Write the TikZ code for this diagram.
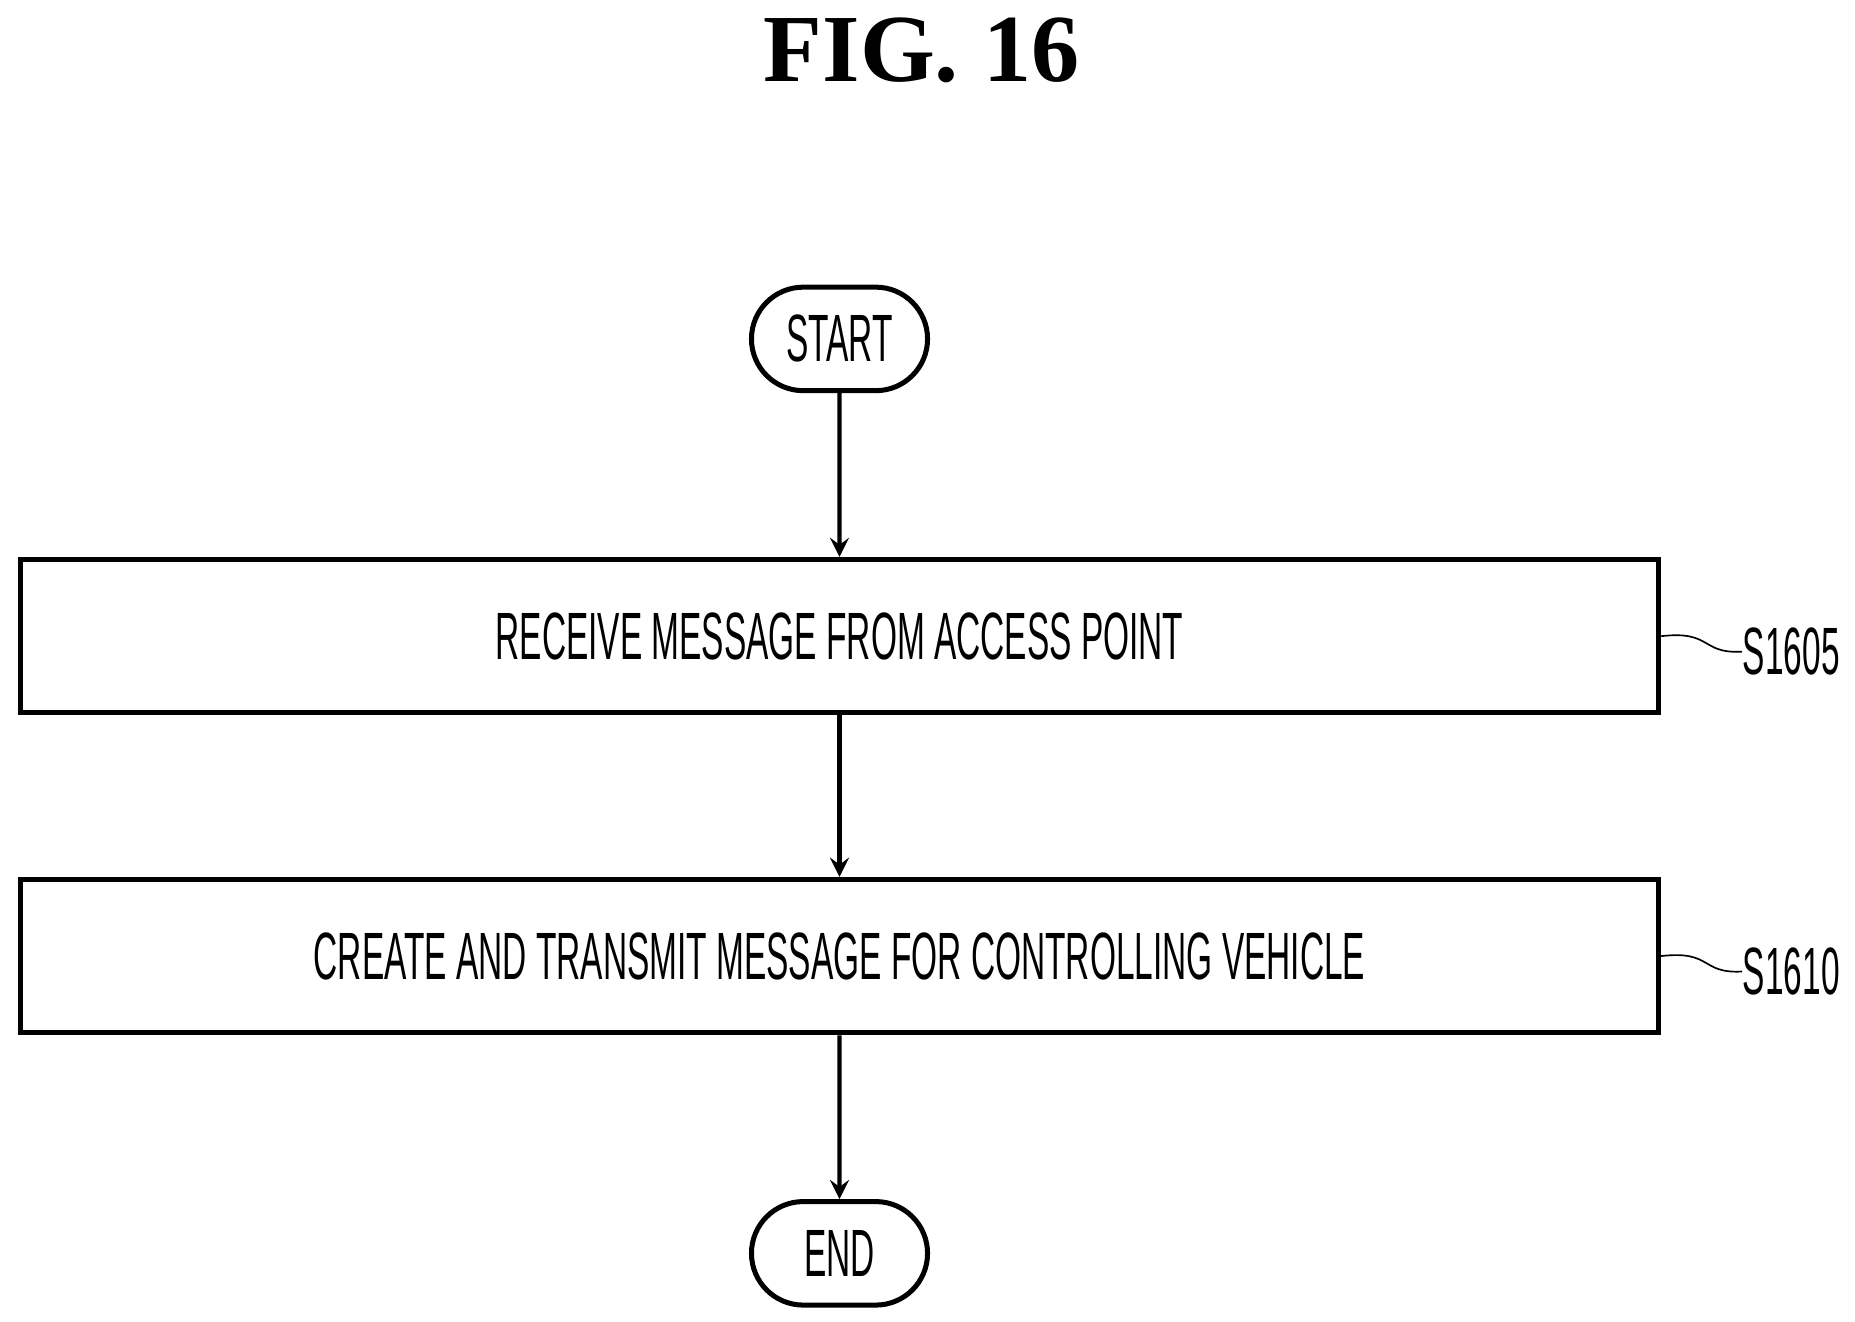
\documentclass[tikz,border=0pt]{standalone}
\usepackage{fontspec}
\setmainfont{Liberation Serif}
\newfontfamily\narrowsf[FakeStretch=0.5]{Liberation Sans}
\usetikzlibrary{shapes.misc,positioning}
\begin{document}
\begin{tikzpicture}[x=0.01cm,y=-0.01cm,
  every node/.style={font=\narrowsf\fontsize{16}{18}\selectfont},
  term/.style={draw,line width=1.2pt,rounded rectangle,minimum width=2.68cm,minimum height=0.87cm,inner xsep=0.6cm},
  procbox/.style={draw,line width=1.2pt,minimum width=13.77cm,minimum height=1.29cm},
  arr/.style={->,>=stealth,line width=1pt},
  tag/.style={anchor=west,inner sep=0pt}]
\useasboundingbox (0,0) rectangle (1560,1111);
\node[font=\bfseries\fontsize{23}{26}\selectfont] (title) at (775,42) {FIG. 16};
\node[term] (start) at (706,285) {START};
\node[procbox] (s1) at (706,535) {RECEIVE MESSAGE FROM ACCESS POINT};
\node[procbox] (s2) at (706,804) {CREATE AND TRANSMIT MESSAGE FOR CONTROLLING VEHICLE};
\node[term] (end) at (706,1054) {END};
\draw[arr] (start) -- (s1);
\draw[arr] (s1) -- (s2);
\draw[arr] (s2) -- (end);
% step labels
\coordinate (c1) at (1465,548);
\coordinate (c2) at (1465,817);
\node[tag] (l1) at (c1) {S1605};
\node[tag] (l2) at (c2) {S1610};
\draw (s1.east) .. controls (1440,530) and (1430,550) .. (c1);
\draw (s2.east) .. controls (1440,799) and (1430,819) .. (c2);
\end{tikzpicture}
\end{document}
